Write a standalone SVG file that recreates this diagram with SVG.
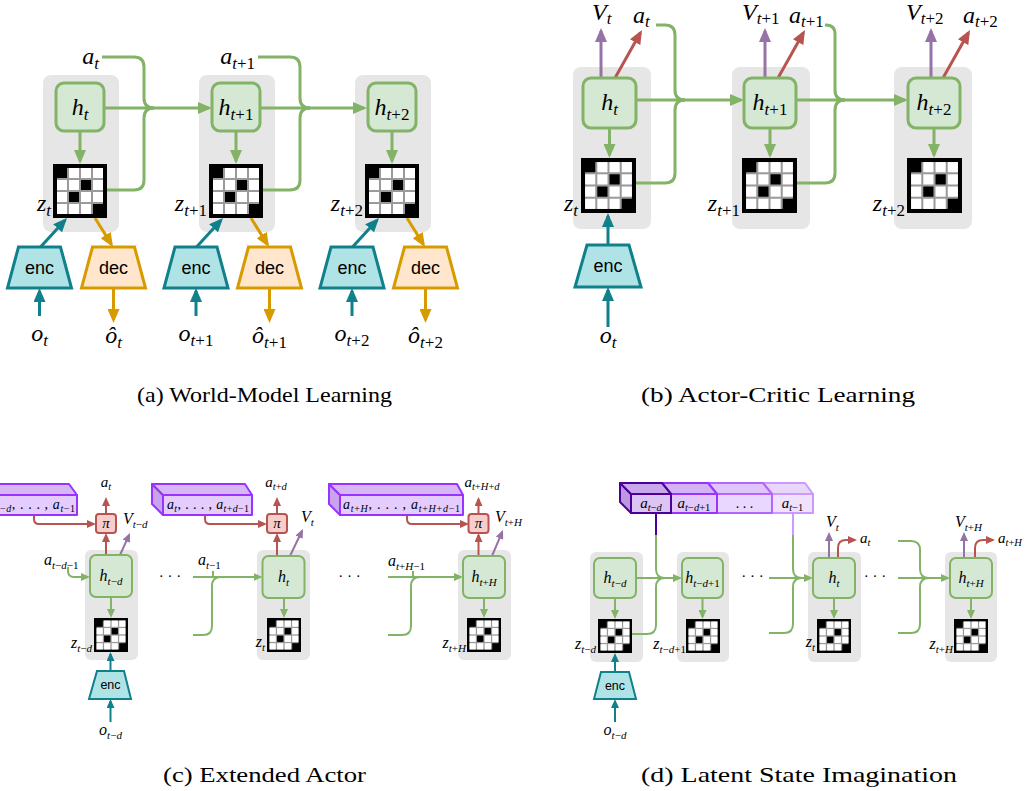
<svg xmlns="http://www.w3.org/2000/svg" width="1027" height="791" viewBox="0 0 1027 791">
<style>
.bg{fill:#e6e6e6}
.h3{fill:#d5e8d4;stroke:#82b366;stroke-width:3}
.h2{fill:#d5e8d4;stroke:#82b366;stroke-width:2}
.enc3{fill:#b0e3e6;stroke:#10808a;stroke-width:3}
.enc2{fill:#b0e3e6;stroke:#10808a;stroke-width:2}
.dec3{fill:#ffe6cc;stroke:#d79b00;stroke-width:3}
.pi{fill:#f8cecc;stroke:#b85450;stroke-width:2}
.g3{fill:none;stroke:#82b366;stroke-width:3}
.g2{fill:none;stroke:#82b366;stroke-width:2}
.t3{fill:none;stroke:#10808a;stroke-width:3}
.t2{fill:none;stroke:#10808a;stroke-width:2}
.o3{fill:none;stroke:#d79b00;stroke-width:3}
.r3{fill:none;stroke:#b85450;stroke-width:3}
.r2{fill:none;stroke:#b85450;stroke-width:2}
.p3{fill:none;stroke:#9673a6;stroke-width:3}
.p2{fill:none;stroke:#9673a6;stroke-width:2}
.m{font-family:"Liberation Serif","DejaVu Serif",serif;font-style:italic;fill:#000}
.n{font-style:normal}
.cap{font-family:"Liberation Serif","DejaVu Serif",serif;font-size:21px;fill:#000}
.sf{font-family:"Liberation Sans",Arial,sans-serif;fill:#000;text-anchor:middle}
.pc{fill:#e5ccff;stroke:#9933ff;stroke-width:2;stroke-linejoin:round}
.pct{fill:#d7b6f6;stroke:#9933ff;stroke-width:2;stroke-linejoin:round}
.pcs{fill:#c9a3ec;stroke:#9933ff;stroke-width:2;stroke-linejoin:round}
</style>
<defs>
<symbol id="grid" viewBox="0 0 54 54">
<rect width="54" height="54" fill="#000"/>
<rect x="4" y="4" width="46" height="46" fill="#9a9a9a"/>
<g fill="#fff">
<rect x="16" y="4" width="10" height="10"/><rect x="28" y="4" width="10" height="10"/><rect x="40" y="4" width="10" height="10"/>
<rect x="4" y="16" width="10" height="10"/><rect x="16" y="16" width="10" height="10"/><rect x="40" y="16" width="10" height="10"/>
<rect x="4" y="28" width="10" height="10"/><rect x="28" y="28" width="10" height="10"/><rect x="40" y="28" width="10" height="10"/>
<rect x="4" y="40" width="10" height="10"/><rect x="16" y="40" width="10" height="10"/><rect x="28" y="40" width="10" height="10"/>
</g>
<g fill="#000">
<rect x="3" y="3" width="11" height="11"/><rect x="28" y="16" width="10" height="10"/><rect x="16" y="28" width="10" height="10"/><rect x="40" y="40" width="11" height="11"/>
</g>
</symbol>
<marker id="gL" viewBox="0 0 14 12" markerWidth="14" markerHeight="12" refX="11" refY="6" orient="auto" markerUnits="userSpaceOnUse"><path d="M0,0L14,6L0,12z" fill="#82b366"/></marker>
<marker id="tL" viewBox="0 0 14 12" markerWidth="14" markerHeight="12" refX="11" refY="6" orient="auto" markerUnits="userSpaceOnUse"><path d="M0,0L14,6L0,12z" fill="#10808a"/></marker>
<marker id="oL" viewBox="0 0 14 12" markerWidth="14" markerHeight="12" refX="11" refY="6" orient="auto" markerUnits="userSpaceOnUse"><path d="M0,0L14,6L0,12z" fill="#d79b00"/></marker>
<marker id="rL" viewBox="0 0 14 12" markerWidth="14" markerHeight="12" refX="11" refY="6" orient="auto" markerUnits="userSpaceOnUse"><path d="M0,0L14,6L0,12z" fill="#b85450"/></marker>
<marker id="pL" viewBox="0 0 14 12" markerWidth="14" markerHeight="12" refX="11" refY="6" orient="auto" markerUnits="userSpaceOnUse"><path d="M0,0L14,6L0,12z" fill="#9673a6"/></marker>
<marker id="gS" viewBox="0 0 9 8" markerWidth="9" markerHeight="8" refX="7" refY="4" orient="auto" markerUnits="userSpaceOnUse"><path d="M0,0L9,4L0,8z" fill="#82b366"/></marker>
<marker id="tS" viewBox="0 0 9 8" markerWidth="9" markerHeight="8" refX="7" refY="4" orient="auto" markerUnits="userSpaceOnUse"><path d="M0,0L9,4L0,8z" fill="#10808a"/></marker>
<marker id="rS" viewBox="0 0 9 8" markerWidth="9" markerHeight="8" refX="7" refY="4" orient="auto" markerUnits="userSpaceOnUse"><path d="M0,0L9,4L0,8z" fill="#b85450"/></marker>
<marker id="pS" viewBox="0 0 9 8" markerWidth="9" markerHeight="8" refX="7" refY="4" orient="auto" markerUnits="userSpaceOnUse"><path d="M0,0L9,4L0,8z" fill="#9673a6"/></marker>
</defs>

<g id="frames">
<rect class="bg" x="43" y="75" width="76" height="157" rx="8"/>
<rect class="bg" x="199" y="75" width="76" height="157" rx="8"/>
<rect class="bg" x="355" y="75" width="76" height="157" rx="8"/>
<rect class="bg" x="573" y="67" width="78" height="162" rx="8"/>
<rect class="bg" x="732" y="67" width="78" height="162" rx="8"/>
<rect class="bg" x="894" y="67" width="78" height="162" rx="8"/>
<rect class="bg" x="85" y="550" width="53" height="110" rx="6"/>
<rect class="bg" x="257" y="550" width="53" height="110" rx="6"/>
<rect class="bg" x="458" y="550" width="53" height="110" rx="6"/>
<rect class="bg" x="590" y="552" width="53" height="110" rx="6"/>
<rect class="bg" x="677" y="552" width="52" height="110" rx="6"/>
<rect class="bg" x="808" y="552" width="53" height="110" rx="6"/>
<rect class="bg" x="945" y="552" width="52" height="110" rx="6"/>
</g>

<g id="connectors">
<path class="g3" d="M80 131V161" marker-end="url(#gL)"/>
<path class="g3" d="M236 131V161" marker-end="url(#gL)"/>
<path class="g3" d="M392 131V161" marker-end="url(#gL)"/>
<path class="g3" d="M104 108H209" marker-end="url(#gL)"/>
<path class="g3" d="M260 108H364" marker-end="url(#gL)"/>
<path class="g3" d="M102 57H134Q144 57 144 67V98Q144 108 154 108"/>
<path class="g3" d="M107 190H134Q144 190 144 180V118Q144 108 154 108"/>
<path class="g3" d="M258 57H290Q300 57 300 67V98Q300 108 310 108"/>
<path class="g3" d="M263 190H290Q300 190 300 180V118Q300 108 310 108"/>
<path class="t3" d="M40.5 247L65 220.2" marker-end="url(#tL)"/>
<path class="t3" d="M196.5 247L221 220.2" marker-end="url(#tL)"/>
<path class="t3" d="M352.5 247L377 220.2" marker-end="url(#tL)"/>
<path class="o3" d="M95 218L111.4 244.4" marker-end="url(#oL)"/>
<path class="o3" d="M251 218L267.4 244.4" marker-end="url(#oL)"/>
<path class="o3" d="M407 218L423.4 244.4" marker-end="url(#oL)"/>
<path class="t3" d="M39.5 316V291" marker-end="url(#tL)"/>
<path class="t3" d="M196 316V291" marker-end="url(#tL)"/>
<path class="t3" d="M352 316V291" marker-end="url(#tL)"/>
<path class="o3" d="M113.5 289V320" marker-end="url(#oL)"/>
<path class="o3" d="M269.5 289V320" marker-end="url(#oL)"/>
<path class="o3" d="M425.5 289V320" marker-end="url(#oL)"/>
<path class="g3" d="M609.5 128V155" marker-end="url(#gL)"/>
<path class="g3" d="M770 128V155" marker-end="url(#gL)"/>
<path class="g3" d="M934 128V155" marker-end="url(#gL)"/>
<path class="g3" d="M636 100H741" marker-end="url(#gL)"/>
<path class="g3" d="M796 100H905" marker-end="url(#gL)"/>
<path class="g3" d="M656 25H665Q675 25 675 35V90Q675 100 685 100"/>
<path class="g3" d="M636 183H665Q675 183 675 173V110Q675 100 685 100"/>
<path class="g3" d="M825 25H826Q835 25 835 34V90Q835 100 845 100"/>
<path class="g3" d="M797 183H825Q835 183 835 173V110Q835 100 845 100"/>
<path class="p3" d="M601 78V31" marker-end="url(#pL)"/>
<path class="p3" d="M765 78V31" marker-end="url(#pL)"/>
<path class="p3" d="M931 78V31" marker-end="url(#pL)"/>
<path class="r3" d="M615 78L640.5 32.6" marker-end="url(#rL)"/>
<path class="r3" d="M778 78L803.5 32.6" marker-end="url(#rL)"/>
<path class="r3" d="M943 78L968.5 32.6" marker-end="url(#rL)"/>
<path class="t3" d="M608 245V216" marker-end="url(#tL)"/>
<path class="t3" d="M608 327V290" marker-end="url(#tL)"/>
<path class="g2" d="M111 597V616" marker-end="url(#gS)"/>
<path class="g2" d="M284 598V616" marker-end="url(#gS)"/>
<path class="g2" d="M484 598V616" marker-end="url(#gS)"/>
<path class="r2" d="M106 555V535" marker-end="url(#rS)"/>
<path class="r2" d="M277 556V535" marker-end="url(#rS)"/>
<path class="r2" d="M478.5 556V535" marker-end="url(#rS)"/>
<path class="r2" d="M106 514V499" marker-end="url(#rS)"/>
<path class="r2" d="M277 514V499" marker-end="url(#rS)"/>
<path class="r2" d="M478.5 514V499" marker-end="url(#rS)"/>
<path class="p2" d="M120 555L129.2 534.8" marker-end="url(#pS)"/>
<path class="p2" d="M290 556L302.1 530.8" marker-end="url(#pS)"/>
<path class="p2" d="M492 556L502.2 531.8" marker-end="url(#pS)"/>
<path class="r2" d="M34 515V519Q34 524 39 524H94" marker-end="url(#rS)"/>
<path class="r2" d="M205 515V519Q205 524 210 524H265" marker-end="url(#rS)"/>
<path class="r2" d="M407 515V519Q407 524 412 524H467" marker-end="url(#rS)"/>
<path class="g2" d="M68 567V571Q68 577 74 577H88" marker-end="url(#gS)"/>
<path class="g2" d="M193 577H260.5" marker-end="url(#gS)"/>
<path class="g2" d="M213 571V577"/>
<path class="g2" d="M193 635H203Q212 635 212 626V586Q212 577 221 577"/>
<path class="g2" d="M388 577H461" marker-end="url(#gS)"/>
<path class="g2" d="M413 571V577"/>
<path class="g2" d="M388 635H402Q411 635 411 626V586Q411 577 420 577"/>
<path class="t2" d="M110.5 671V654" marker-end="url(#tS)"/>
<path class="t2" d="M110.5 722V701" marker-end="url(#tS)"/>
<path class="g2" d="M615 598V617" marker-end="url(#gS)"/>
<path class="g2" d="M702.5 598V617" marker-end="url(#gS)"/>
<path class="g2" d="M834 598V617" marker-end="url(#gS)"/>
<path class="g2" d="M971 598V617" marker-end="url(#gS)"/>
<path class="g2" d="M636 578H680" marker-end="url(#gS)"/>
<path fill="none" stroke="#4c0099" stroke-width="2" d="M656 513V535"/>
<path class="g2" d="M656 535V569Q656 578 665 578"/>
<path class="g2" d="M632 634H647Q656 634 656 625V587Q656 578 665 578"/>
<path class="g2" d="M769 578H811" marker-end="url(#gS)"/>
<path fill="none" stroke="#cc99ff" stroke-width="2" d="M793 513V535"/>
<path class="g2" d="M793 535V569Q793 578 802 578"/>
<path class="g2" d="M769 633H784Q793 633 793 624V587Q793 578 802 578"/>
<path class="g2" d="M898 578H948" marker-end="url(#gS)"/>
<path class="g2" d="M898 541H911Q920 541 920 550V569Q920 578 929 578"/>
<path class="g2" d="M898 633H911Q920 633 920 624V587Q920 578 929 578"/>
<path class="p2" d="M829 558V534" marker-end="url(#pS)"/>
<path class="p2" d="M964 558V534" marker-end="url(#pS)"/>
<path class="r2" d="M838 558V548Q838 540 846 540H855" marker-end="url(#rS)"/>
<path class="r2" d="M975 558V548Q975 540 983 540H993" marker-end="url(#rS)"/>
<path class="t2" d="M615 672V655" marker-end="url(#tS)"/>
<path class="t2" d="M615 722V701" marker-end="url(#tS)"/>
</g>

<!-- Panel (a) -->
<g id="a-h0"><rect class="h3" x="56" y="83" width="48" height="48" rx="8"/><text class="m" font-size="24" x="80" y="115" text-anchor="middle">h<tspan font-size="17" dy="5">t</tspan></text></g>
<g id="a-h1"><rect class="h3" x="212" y="83" width="48" height="48" rx="8"/><text class="m" font-size="24" x="236" y="115" text-anchor="middle">h<tspan font-size="17" dy="5">t<tspan class="n">+1</tspan></tspan></text></g>
<g id="a-h2"><rect class="h3" x="368" y="83" width="48" height="48" rx="8"/><text class="m" font-size="24" x="392" y="115" text-anchor="middle">h<tspan font-size="17" dy="5">t<tspan class="n">+2</tspan></tspan></text></g>
<g id="a-z0"><use href="#grid" x="53" y="164" width="54" height="54"/><text class="m" font-size="24" x="51" y="211" text-anchor="end">z<tspan font-size="17" dy="5">t</tspan></text></g>
<g id="a-z1"><use href="#grid" x="209" y="164" width="54" height="54"/><text class="m" font-size="24" x="207" y="211" text-anchor="end">z<tspan font-size="17" dy="5">t<tspan class="n">+1</tspan></tspan></text></g>
<g id="a-z2"><use href="#grid" x="365" y="164" width="54" height="54"/><text class="m" font-size="24" x="363" y="211" text-anchor="end">z<tspan font-size="17" dy="5">t<tspan class="n">+2</tspan></tspan></text></g>
<g id="a-enc0"><polygon class="enc3" points="18.5,247 60.5,247 71.5,288 7.5,288"/><text class="sf" font-size="18" x="39.5" y="274">enc</text></g>
<g id="a-enc1"><polygon class="enc3" points="175,247 217,247 228,288 164,288"/><text class="sf" font-size="18" x="196" y="274">enc</text></g>
<g id="a-enc2"><polygon class="enc3" points="331,247 373,247 384,288 320,288"/><text class="sf" font-size="18" x="352" y="274">enc</text></g>
<g id="a-dec0"><polygon class="dec3" points="92.5,247 134.5,247 145.5,288 81.5,288"/><text class="sf" font-size="18" x="113.5" y="274">dec</text></g>
<g id="a-dec1"><polygon class="dec3" points="248.5,247 290.5,247 301.5,288 237.5,288"/><text class="sf" font-size="18" x="269.5" y="274">dec</text></g>
<g id="a-dec2"><polygon class="dec3" points="404.5,247 446.5,247 457.5,288 393.5,288"/><text class="sf" font-size="18" x="425.5" y="274">dec</text></g>
<g id="a-labels">
<text class="m" font-size="24" x="99" y="64" text-anchor="end">a<tspan font-size="17" dy="5">t</tspan></text>
<text class="m" font-size="24" x="255" y="64" text-anchor="end">a<tspan font-size="17" dy="5">t<tspan class="n">+1</tspan></tspan></text>
<text class="m" font-size="24" x="39.5" y="341" text-anchor="middle">o<tspan font-size="17" dy="5">t</tspan></text>
<text class="m" font-size="24" x="196" y="341" text-anchor="middle">o<tspan font-size="17" dy="5">t<tspan class="n">+1</tspan></tspan></text>
<text class="m" font-size="24" x="352" y="341" text-anchor="middle">o<tspan font-size="17" dy="5">t<tspan class="n">+2</tspan></tspan></text>
<text class="m" font-size="24" x="113.5" y="343" text-anchor="middle">ô<tspan font-size="17" dy="5">t</tspan></text>
<text class="m" font-size="24" x="269.5" y="343" text-anchor="middle">ô<tspan font-size="17" dy="5">t<tspan class="n">+1</tspan></tspan></text>
<text class="m" font-size="24" x="425.5" y="343" text-anchor="middle">ô<tspan font-size="17" dy="5">t<tspan class="n">+2</tspan></tspan></text>
</g>

<!-- Panel (b) -->
<g id="b-h0"><rect class="h3" x="583" y="78" width="53" height="50" rx="8"/><text class="m" font-size="24" x="609.5" y="110" text-anchor="middle">h<tspan font-size="17" dy="5">t</tspan></text></g>
<g id="b-h1"><rect class="h3" x="744" y="78" width="52" height="50" rx="8"/><text class="m" font-size="24" x="770" y="110" text-anchor="middle">h<tspan font-size="17" dy="5">t<tspan class="n">+1</tspan></tspan></text></g>
<g id="b-h2"><rect class="h3" x="908" y="78" width="52" height="50" rx="8"/><text class="m" font-size="24" x="934" y="110" text-anchor="middle">h<tspan font-size="17" dy="5">t<tspan class="n">+2</tspan></tspan></text></g>
<g id="b-z0"><use href="#grid" x="581" y="158" width="55" height="55"/><text class="m" font-size="24" x="578" y="211" text-anchor="end">z<tspan font-size="17" dy="5">t</tspan></text></g>
<g id="b-z1"><use href="#grid" x="742" y="158" width="55" height="55"/><text class="m" font-size="24" x="740" y="211" text-anchor="end">z<tspan font-size="17" dy="5">t<tspan class="n">+1</tspan></tspan></text></g>
<g id="b-z2"><use href="#grid" x="907" y="158" width="55" height="55"/><text class="m" font-size="24" x="905" y="211" text-anchor="end">z<tspan font-size="17" dy="5">t<tspan class="n">+2</tspan></tspan></text></g>
<g id="b-enc0"><polygon class="enc3" points="587,245 629,245 641,287 575,287"/><text class="sf" font-size="18" x="608" y="272">enc</text></g>
<g id="b-labels">
<text class="m" font-size="24" x="592" y="20">V<tspan font-size="17" dy="4">t</tspan></text>
<text class="m" font-size="24" x="633" y="23">a<tspan font-size="17" dy="4">t</tspan></text>
<text class="m" font-size="24" x="742" y="20">V<tspan font-size="17" dy="4">t<tspan class="n">+1</tspan></tspan></text>
<text class="m" font-size="24" x="789" y="23">a<tspan font-size="17" dy="4">t<tspan class="n">+1</tspan></tspan></text>
<text class="m" font-size="24" x="906" y="20">V<tspan font-size="17" dy="4">t<tspan class="n">+2</tspan></tspan></text>
<text class="m" font-size="24" x="963" y="23">a<tspan font-size="17" dy="4">t<tspan class="n">+2</tspan></tspan></text>
<text class="m" font-size="24" x="608" y="343" text-anchor="middle">o<tspan font-size="17" dy="5">t</tspan></text>
</g>

<!-- Panel (c) -->
<g id="c-buf0">
<polygon class="pct" points="-25,484 69,484 77,495 -14,495"/>
<rect class="pc" x="-14" y="495" width="91" height="20"/>
<text class="m" font-size="14" x="-11" y="509" textLength="86" lengthAdjust="spacing">a<tspan font-size="10" dy="3">t<tspan class="n">−</tspan>d</tspan><tspan class="n" dy="-3">, . . . , </tspan>a<tspan font-size="10" dy="3">t<tspan class="n">−1</tspan></tspan></text>
</g>
<g id="c-buf1">
<polygon class="pcs" points="152,484 163,495 163,515 152,504"/>
<polygon class="pct" points="152,484 245,484 252,495 163,495"/>
<rect class="pc" x="163" y="495" width="89" height="20"/>
<text class="m" font-size="14" x="167" y="509" textLength="82" lengthAdjust="spacing">a<tspan font-size="10" dy="3">t</tspan><tspan class="n" dy="-3">, . . . , </tspan>a<tspan font-size="10" dy="3">t<tspan class="n">+</tspan>d<tspan class="n">−1</tspan></tspan></text>
</g>
<g id="c-buf2">
<polygon class="pcs" points="329,484 340,495 340,515 329,504"/>
<polygon class="pct" points="329,484 457,484 463,495 340,495"/>
<rect class="pc" x="340" y="495" width="123" height="20"/>
<text class="m" font-size="14" x="343" y="509" textLength="117" lengthAdjust="spacing">a<tspan font-size="10" dy="3">t<tspan class="n">+</tspan>H</tspan><tspan class="n" dy="-3">, . . . , </tspan>a<tspan font-size="10" dy="3">t<tspan class="n">+</tspan>H<tspan class="n">+</tspan>d<tspan class="n">−1</tspan></tspan></text>
</g>
<g id="c-pi0"><rect class="pi" x="96" y="514" width="20" height="19" rx="3"/><text class="m" font-size="15" x="106" y="528" text-anchor="middle">π</text></g>
<g id="c-pi1"><rect class="pi" x="267" y="514" width="20" height="19" rx="3"/><text class="m" font-size="15" x="277" y="528" text-anchor="middle">π</text></g>
<g id="c-pi2"><rect class="pi" x="468.5" y="514" width="20" height="19" rx="3"/><text class="m" font-size="15" x="478.5" y="528" text-anchor="middle">π</text></g>
<g id="c-h0"><rect class="h2" x="90" y="555" width="42" height="42" rx="6"/><text class="m" font-size="16" x="111" y="581" text-anchor="middle">h<tspan font-size="11" dy="3.5">t<tspan class="n">−</tspan>d</tspan></text></g>
<g id="c-h1"><rect class="h2" x="262.5" y="556" width="42" height="42" rx="6"/><text class="m" font-size="16" x="283.5" y="582" text-anchor="middle">h<tspan font-size="11" dy="3.5">t</tspan></text></g>
<g id="c-h2"><rect class="h2" x="463" y="556" width="42" height="42" rx="6"/><text class="m" font-size="16" x="484" y="582" text-anchor="middle">h<tspan font-size="11" dy="3.5">t<tspan class="n">+</tspan>H</tspan></text></g>
<g id="c-z0"><use href="#grid" x="94" y="618" width="34" height="34"/><text class="m" font-size="16" x="92" y="648" text-anchor="end">z<tspan font-size="11" dy="3.5">t<tspan class="n">−</tspan>d</tspan></text></g>
<g id="c-z1"><use href="#grid" x="267" y="618" width="34" height="34"/><text class="m" font-size="16" x="265" y="647" text-anchor="end">z<tspan font-size="11" dy="3.5">t</tspan></text></g>
<g id="c-z2"><use href="#grid" x="467" y="618" width="34" height="34"/><text class="m" font-size="16" x="466" y="648" text-anchor="end">z<tspan font-size="11" dy="3.5">t<tspan class="n">+</tspan>H</tspan></text></g>
<g id="c-enc0"><polygon class="enc2" points="97,671 124,671 131,699 89,699"/><text class="sf" font-size="12.5" x="110.5" y="689">enc</text></g>
<g id="c-labels">
<text class="m" font-size="15" x="106" y="487" text-anchor="middle">a<tspan font-size="10.5" dy="3">t</tspan></text>
<text class="m" font-size="15" x="276" y="487" text-anchor="middle">a<tspan font-size="10.5" dy="3">t<tspan class="n">+</tspan>d</tspan></text>
<text class="m" font-size="15" x="482" y="487" text-anchor="middle">a<tspan font-size="10.5" dy="3">t<tspan class="n">+</tspan>H<tspan class="n">+</tspan>d</tspan></text>
<text class="m" font-size="16" x="123" y="524">V<tspan font-size="11" dy="3.5">t<tspan class="n">−</tspan>d</tspan></text>
<text class="m" font-size="16" x="301" y="522">V<tspan font-size="11" dy="3.5">t</tspan></text>
<text class="m" font-size="16" x="495" y="522">V<tspan font-size="11" dy="3.5">t<tspan class="n">+</tspan>H</tspan></text>
<text class="m" font-size="16" x="44" y="565">a<tspan font-size="11" dy="3.5">t<tspan class="n">−</tspan>d<tspan class="n">−1</tspan></tspan></text>
<text class="m" font-size="16" x="198" y="565">a<tspan font-size="11" dy="3.5">t<tspan class="n">−1</tspan></tspan></text>
<text class="m" font-size="16" x="388" y="566">a<tspan font-size="11" dy="3.5">t<tspan class="n">+</tspan>H<tspan class="n">−1</tspan></tspan></text>
<text class="m" font-size="16" x="110.5" y="735" text-anchor="middle">o<tspan font-size="11" dy="3.5">t<tspan class="n">−</tspan>d</tspan></text>
<text class="m n" font-size="15" x="170" y="581" text-anchor="middle">· · ·</text>
<text class="m n" font-size="15" x="349.5" y="581" text-anchor="middle">· · ·</text>
</g>

<!-- Panel (d) -->
<g id="d-buf3">
<polygon fill="#e9d6fb" stroke="#cc99ff" stroke-width="2" stroke-linejoin="round" points="763,483 805,483 813,494 772,494"/>
<rect fill="#f0e2ff" stroke="#cc99ff" stroke-width="2" x="772" y="494" width="41" height="19"/>
<text class="m" font-size="15" x="792.5" y="508" text-anchor="middle">a<tspan font-size="10.5" dy="3">t<tspan class="n">−1</tspan></tspan></text>
</g>
<g id="d-buf2">
<polygon fill="#dfc5fa" stroke="#b266ff" stroke-width="2" stroke-linejoin="round" points="708,483 763,483 772,494 717,494"/>
<rect fill="#ead7ff" stroke="#b266ff" stroke-width="2" x="717" y="494" width="55" height="19"/>
<text class="m n" font-size="14" x="744.5" y="508" text-anchor="middle">. . .</text>
</g>
<g id="d-buf1">
<polygon fill="#d4b3f5" stroke="#9933ff" stroke-width="2" stroke-linejoin="round" points="662,483 708,483 717,494 671,494"/>
<rect fill="#e2c8fb" stroke="#9933ff" stroke-width="2" x="671" y="494" width="46" height="19"/>
<text class="m" font-size="15" x="694" y="508" text-anchor="middle">a<tspan font-size="10.5" dy="3">t<tspan class="n">−</tspan>d<tspan class="n">+1</tspan></tspan></text>
</g>
<g id="d-buf0">
<polygon fill="#bb98e0" stroke="#4c0099" stroke-width="2" stroke-linejoin="round" points="620,483 631,494 631,513 620,502"/>
<polygon fill="#c8a8ea" stroke="#4c0099" stroke-width="2" stroke-linejoin="round" points="620,483 662,483 671,494 631,494"/>
<rect fill="#dcc5f4" stroke="#4c0099" stroke-width="2" x="631" y="494" width="40" height="19"/>
<text class="m" font-size="15" x="651" y="508" text-anchor="middle">a<tspan font-size="10.5" dy="3">t<tspan class="n">−</tspan>d</tspan></text>
</g>
<g id="d-h0"><rect class="h2" x="594" y="558" width="42" height="40" rx="6"/><text class="m" font-size="16" x="615" y="583" text-anchor="middle">h<tspan font-size="11" dy="3.5">t<tspan class="n">−</tspan>d</tspan></text></g>
<g id="d-h1"><rect class="h2" x="682" y="558" width="41" height="40" rx="6"/><text class="m" font-size="16" x="702.5" y="583" text-anchor="middle">h<tspan font-size="11" dy="3.5">t<tspan class="n">−</tspan>d<tspan class="n">+1</tspan></tspan></text></g>
<g id="d-h2"><rect class="h2" x="813" y="558" width="42" height="40" rx="6"/><text class="m" font-size="16" x="834" y="583" text-anchor="middle">h<tspan font-size="11" dy="3.5">t</tspan></text></g>
<g id="d-h3"><rect class="h2" x="950" y="558" width="42" height="40" rx="6"/><text class="m" font-size="16" x="971" y="583" text-anchor="middle">h<tspan font-size="11" dy="3.5">t<tspan class="n">+</tspan>H</tspan></text></g>
<g id="d-z0"><use href="#grid" x="598" y="619" width="34" height="34"/><text class="m" font-size="16" x="596" y="649" text-anchor="end">z<tspan font-size="11" dy="3.5">t<tspan class="n">−</tspan>d</tspan></text></g>
<g id="d-z1"><use href="#grid" x="686" y="619" width="34" height="34"/><text class="m" font-size="16" x="686" y="649" text-anchor="end">z<tspan font-size="11" dy="3.5">t<tspan class="n">−</tspan>d<tspan class="n">+1</tspan></tspan></text></g>
<g id="d-z2"><use href="#grid" x="817" y="619" width="34" height="34"/><text class="m" font-size="16" x="815" y="647" text-anchor="end">z<tspan font-size="11" dy="3.5">t</tspan></text></g>
<g id="d-z3"><use href="#grid" x="954" y="619" width="34" height="34"/><text class="m" font-size="16" x="953" y="649" text-anchor="end">z<tspan font-size="11" dy="3.5">t<tspan class="n">+</tspan>H</tspan></text></g>
<g id="d-enc0"><polygon class="enc2" points="601,672 629,672 636,699 594,699"/><text class="sf" font-size="12.5" x="615" y="690">enc</text></g>
<g id="d-labels">
<text class="m" font-size="16" x="826" y="527">V<tspan font-size="11" dy="3.5">t</tspan></text>
<text class="m" font-size="15" x="860" y="543">a<tspan font-size="10.5" dy="3">t</tspan></text>
<text class="m" font-size="16" x="955" y="527">V<tspan font-size="11" dy="3.5">t<tspan class="n">+</tspan>H</tspan></text>
<text class="m" font-size="15" x="998" y="543">a<tspan font-size="10.5" dy="3">t<tspan class="n">+</tspan>H</tspan></text>
<text class="m" font-size="16" x="615" y="735" text-anchor="middle">o<tspan font-size="11" dy="3.5">t<tspan class="n">−</tspan>d</tspan></text>
<text class="m n" font-size="15" x="752.5" y="581" text-anchor="middle">· · ·</text>
<text class="m n" font-size="15" x="875" y="581" text-anchor="middle">· · ·</text>
</g>

<g id="captions">
<text class="cap" x="137" y="402" textLength="255" lengthAdjust="spacingAndGlyphs">(a) World-Model Learning</text>
<text class="cap" x="641" y="402" textLength="274" lengthAdjust="spacingAndGlyphs">(b) Actor-Critic Learning</text>
<text class="cap" x="163" y="782" textLength="203" lengthAdjust="spacingAndGlyphs">(c) Extended Actor</text>
<text class="cap" x="641" y="782" textLength="316" lengthAdjust="spacingAndGlyphs">(d) Latent State Imagination</text>
</g>
</svg>
